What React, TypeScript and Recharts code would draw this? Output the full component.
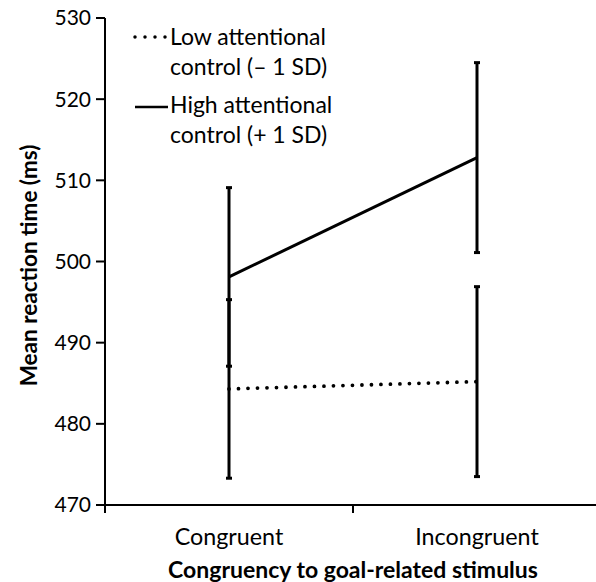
import React from "react";
import { LineChart, Line, XAxis, YAxis, ErrorBar, Legend } from "recharts";

const categories = ["Congruent", "Incongruent"];
const lowMeans = [484.3, 485.2];
const lowErrors = [11.0, 11.7];
const highMeans = [498.1, 512.8];
const highErrors = [11.0, 11.7];
const yTicks = [470, 480, 490, 500, 510, 520, 530];
const seriesNames = ["Low attentional\ncontrol (– 1 SD)", "High attentional\ncontrol (+ 1 SD)"];

const FONT = "Lato, 'Open Sans', sans-serif";

// categories sit in the middle of each band, tick marks on band edges (Excel style)
const chartData = categories.map((c, i) => ({
    x: i + 0.5,
    name: c,
    low: lowMeans[i],
    lowErr: lowErrors[i],
    high: highMeans[i],
    highErr: highErrors[i],
}));

function XTick(props: any) {
    const { x, y, payload } = props;
    const v = payload.value;
    if (Number.isInteger(v)) {
        return <line x1={x} y1={y} x2={x} y2={y + 8} stroke="#000" strokeWidth={2} />;
    }
    const label = categories[Math.floor(v)];
    return (
        <text x={x} y={y + 40} textAnchor="middle" fontSize={23.3} fontFamily={FONT} fill="#000">
            {label}
        </text>
    );
}

function YTitle(props: any) {
    const vb = props.viewBox || { x: 45, y: 18, width: 60, height: 487 };
    const cx = vb.x - 17;
    const cy = vb.y + vb.height / 2 + 4;
    return (
        <text
            x={cx}
            y={cy}
            transform={`rotate(-90 ${cx} ${cy})`}
            textAnchor="middle"
            dominantBaseline="central"
            fontSize={22.5}
            fontWeight="bold"
            fontFamily={FONT}
            fill="#000"
        >
            Mean reaction time (ms)
        </text>
    );
}

function LegendBox() {
    const item = (dotted: boolean, text: string, mt: number) => (
        <div style={{ display: "flex", alignItems: "flex-start", marginTop: mt }}>
            <svg width={38} height={30} style={{ flexShrink: 0 }}>
                {dotted ? (
                    <line
                        x1={3}
                        y1={16}
                        x2={35}
                        y2={16}
                        stroke="#000"
                        strokeWidth={3.5}
                        strokeDasharray="0 10"
                        strokeLinecap="round"
                    />
                ) : (
                    <line x1={3} y1={18} x2={36} y2={18} stroke="#000" strokeWidth={2.5} />
                )}
            </svg>
            <div style={{ whiteSpace: "pre-line", lineHeight: "30px" }}>{text}</div>
        </div>
    );
    return (
        <div style={{ fontFamily: FONT, fontSize: 23, color: "#000", textAlign: "left" }}>
            {item(true, seriesNames[0], 0)}
            {item(false, seriesNames[1], 8)}
        </div>
    );
}

export default function App() {
    return (
        <div style={{ position: "absolute", left: 0, top: 0, width: 596, height: 582, overflow: "hidden", background: "#fff" }}>
            <LineChart width={602} height={582} data={chartData} margin={{ top: 18, right: 1, bottom: 0, left: 45 }}>
                <XAxis
                    dataKey="x"
                    type="number"
                    domain={[0, 2]}
                    ticks={[0, 0.5, 1, 1.5, 2]}
                    interval={0}
                    height={77}
                    tickLine={false}
                    tickSize={0}
                    tickMargin={0}
                    tick={<XTick />}
                    axisLine={{ stroke: "#000", strokeWidth: 2 }}
                    label={{
                        value: "Congruency to goal-related stimulus",
                        position: "insideBottom",
                        offset: 4,
                        fontSize: 23,
                        fontWeight: "bold",
                        fontFamily: FONT,
                        fill: "#000",
                    }}
                />
                <YAxis
                    type="number"
                    domain={[470, 530]}
                    ticks={yTicks}
                    interval={0}
                    width={60}
                    tickSize={9}
                    tickMargin={5}
                    tickLine={{ stroke: "#000", strokeWidth: 2 }}
                    axisLine={{ stroke: "#000", strokeWidth: 2 }}
                    tick={{ fontSize: 21, fontFamily: FONT, fill: "#000" }}
                    label={<YTitle />}
                />
                <Legend
                    layout="vertical"
                    align="center"
                    verticalAlign="middle"
                    wrapperStyle={{ top: 21, left: 132, width: 280 }}
                    content={<LegendBox />}
                />
                <Line
                    dataKey="low"
                    name={seriesNames[0]}
                    stroke="#000"
                    strokeWidth={3.8}
                    strokeDasharray="0 9.5"
                    strokeLinecap="round"
                    dot={false}
                    isAnimationActive={false}
                >
                    <ErrorBar dataKey="lowErr" direction="y" width={3} stroke="#000" strokeWidth={3} />
                </Line>
                <Line
                    dataKey="high"
                    name={seriesNames[1]}
                    stroke="#000"
                    strokeWidth={3}
                    dot={false}
                    isAnimationActive={false}
                >
                    <ErrorBar dataKey="highErr" direction="y" width={3} stroke="#000" strokeWidth={3} />
                </Line>
            </LineChart>
        </div>
    );
}
